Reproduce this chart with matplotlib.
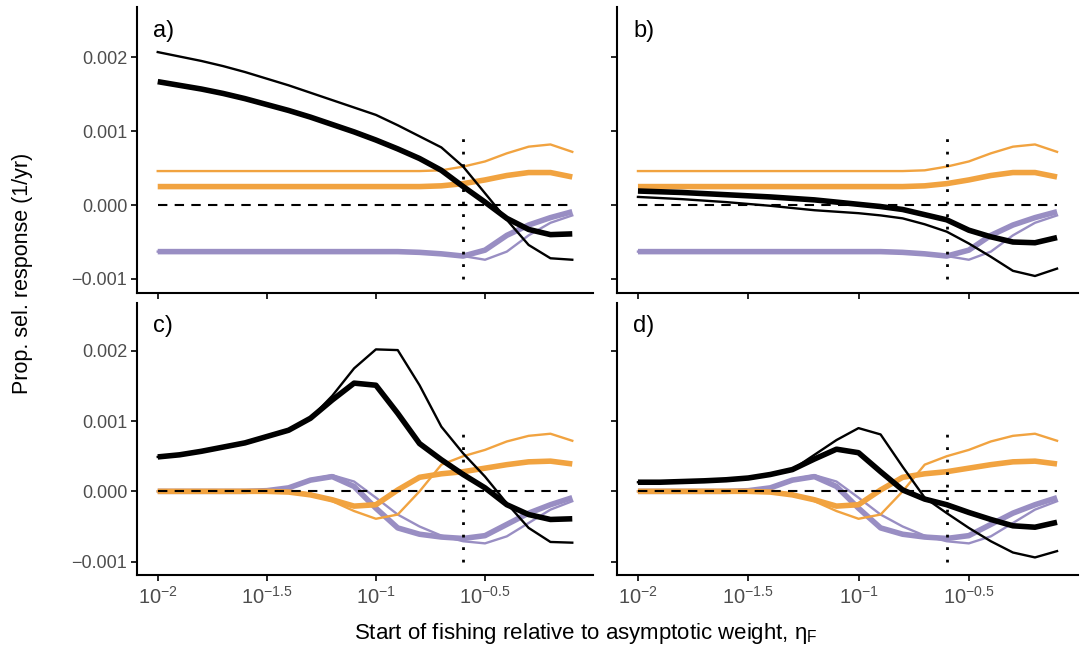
import numpy as np
import matplotlib
matplotlib.use("Agg")
import matplotlib.pyplot as plt

plt.rcParams['font.family'] = ['Liberation Sans', 'DejaVu Sans']
plt.rcParams['mathtext.fontset'] = 'custom'
plt.rcParams['mathtext.rm'] = 'Liberation Sans'
plt.rcParams['mathtext.it'] = 'Liberation Sans:italic'
plt.rcParams['mathtext.bf'] = 'Liberation Sans:bold'

# log10 of start of fishing (eta_F)
log_eta = [-2.0, -1.9, -1.8, -1.7, -1.6, -1.5, -1.4, -1.3, -1.2, -1.1,
           -1.0, -0.9, -0.8, -0.7, -0.6, -0.5, -0.4, -0.3, -0.2, -0.1]
eta_mark = -0.6

# values in units of 1e-3 per yr
# panel a
a_black_thick = [1.67, 1.62, 1.57, 1.51, 1.44, 1.36, 1.28, 1.19, 1.09, 0.99,
                 0.88, 0.76, 0.63, 0.47, 0.25, 0.04, -0.18, -0.33, -0.40, -0.39]
a_black_thin = [2.07, 2.01, 1.95, 1.88, 1.80, 1.71, 1.62, 1.52, 1.42, 1.32,
                1.22, 1.08, 0.93, 0.78, 0.52, 0.16, -0.20, -0.54, -0.72, -0.74]
# panel b
b_black_thick = [0.19, 0.18, 0.17, 0.155, 0.14, 0.125, 0.11, 0.09, 0.07, 0.04,
                 0.01, -0.02, -0.06, -0.13, -0.20, -0.34, -0.43, -0.50, -0.51, -0.44]
b_black_thin = [0.11, 0.095, 0.08, 0.06, 0.04, 0.015, -0.01, -0.04, -0.07, -0.09,
                -0.11, -0.14, -0.18, -0.26, -0.36, -0.52, -0.70, -0.89, -0.96, -0.86]
# top row (a, b) shared components
top_orange_thick = [0.25, 0.25, 0.25, 0.25, 0.25, 0.25, 0.25, 0.25, 0.25, 0.25,
                    0.25, 0.25, 0.25, 0.26, 0.29, 0.34, 0.40, 0.44, 0.44, 0.38]
top_orange_thin = [0.46, 0.46, 0.46, 0.46, 0.46, 0.46, 0.46, 0.46, 0.46, 0.46,
                   0.46, 0.46, 0.46, 0.47, 0.52, 0.59, 0.70, 0.79, 0.82, 0.72]
top_purple_thick = [-0.63, -0.63, -0.63, -0.63, -0.63, -0.63, -0.63, -0.63, -0.63, -0.63,
                    -0.63, -0.63, -0.64, -0.66, -0.69, -0.61, -0.41, -0.27, -0.17, -0.09]
top_purple_thin = [-0.63, -0.63, -0.63, -0.63, -0.63, -0.63, -0.63, -0.63, -0.63, -0.63,
                   -0.63, -0.63, -0.64, -0.66, -0.69, -0.74, -0.63, -0.41, -0.24, -0.14]
# panel c
c_black_thick = [0.49, 0.52, 0.57, 0.63, 0.69, 0.78, 0.87, 1.04, 1.30, 1.54,
                 1.51, 1.11, 0.68, 0.45, 0.24, 0.05, -0.19, -0.33, -0.40, -0.39]
c_black_thin = [0.49, 0.52, 0.57, 0.63, 0.69, 0.78, 0.87, 1.04, 1.36, 1.75,
                2.02, 2.01, 1.51, 0.92, 0.54, 0.21, -0.17, -0.52, -0.72, -0.73]
# panel d
d_black_thick = [0.13, 0.13, 0.14, 0.15, 0.165, 0.19, 0.24, 0.31, 0.46, 0.60,
                 0.55, 0.28, 0.02, -0.11, -0.19, -0.30, -0.40, -0.49, -0.51, -0.44]
d_black_thin = [0.13, 0.13, 0.14, 0.15, 0.165, 0.19, 0.24, 0.31, 0.52, 0.73,
                0.90, 0.81, 0.35, -0.09, -0.31, -0.52, -0.71, -0.87, -0.94, -0.85]
# bottom row (c, d) shared components
bot_orange_thick = [0, 0, 0, 0, 0, 0, -0.01, -0.05, -0.12, -0.21,
                    -0.19, 0.02, 0.20, 0.25, 0.28, 0.33, 0.38, 0.42, 0.43, 0.39]
bot_orange_thin = [0, 0, 0, 0, 0, 0, 0, -0.03, -0.14, -0.28,
                   -0.39, -0.33, 0.0, 0.38, 0.50, 0.59, 0.71, 0.79, 0.82, 0.72]
bot_purple_thick = [0, 0, 0, 0, 0, 0.01, 0.05, 0.16, 0.21, 0.07,
                    -0.24, -0.52, -0.61, -0.65, -0.67, -0.63, -0.47, -0.31, -0.19, -0.09]
bot_purple_thin = [0, 0, 0, 0, 0, 0.01, 0.05, 0.17, 0.23, 0.14,
                   -0.09, -0.33, -0.50, -0.63, -0.71, -0.74, -0.64, -0.45, -0.26, -0.14]

panel_labels = ['a)', 'b)', 'c)', 'd)']
xtick_pows = [-2, -1.5, -1, -0.5]
xtick_labels = [r'$10^{-2}$', r'$10^{-1.5}$', r'$10^{-1}$', r'$10^{-0.5}$']
yticks = [-0.001, 0.0, 0.001, 0.002]
ytick_labels = ['\u22120.001', '0.000', '0.001', '0.002']

ORANGE = '#F1A340'
PURPLE = '#998EC3'
GREY = '#4D4D4D'

x = 10 ** np.array(log_eta)
s = 1e-3

panels = [
    (a_black_thick, a_black_thin, top_orange_thick, top_orange_thin, top_purple_thick, top_purple_thin),
    (b_black_thick, b_black_thin, top_orange_thick, top_orange_thin, top_purple_thick, top_purple_thin),
    (c_black_thick, c_black_thin, bot_orange_thick, bot_orange_thin, bot_purple_thick, bot_purple_thin),
    (d_black_thick, d_black_thin, bot_orange_thick, bot_orange_thin, bot_purple_thick, bot_purple_thin),
]

W, H = 1081, 650
fig = plt.figure(figsize=(W / 100, H / 100), dpi=100)
# pixel boxes: left, right, top, bottom
boxes = [(137, 593, 7, 293), (617, 1078, 7, 293),
         (137, 593, 303, 575), (617, 1078, 303, 575)]

THICK, THIN = 4.0, 1.7
for k, (box, data) in enumerate(zip(boxes, panels)):
    l, r, t, b = box
    ax = fig.add_axes([l / W, 1 - b / H, (r - l) / W, (b - t) / H])
    bk, bn, ok, on, pk, pn = data
    ax.plot(x, np.array(pk) * s, color=PURPLE, lw=THICK, solid_capstyle='butt')
    ax.plot(x, np.array(pn) * s, color=PURPLE, lw=THIN)
    ax.plot(x, np.array(ok) * s, color=ORANGE, lw=THICK, solid_capstyle='butt')
    ax.plot(x, np.array(on) * s, color=ORANGE, lw=THIN)
    ax.plot(x, np.array(bk) * s, color='black', lw=THICK, solid_capstyle='butt')
    ax.plot(x, np.array(bn) * s, color='black', lw=THIN)
    ax.plot([x[0], x[-1]], [0, 0], color='black', lw=1.5, dashes=(4.5, 3.5))
    ax.vlines(10 ** eta_mark, -0.001, 0.00092, color='black', lw=2.0,
              linestyles=(0, (1, 3.5)))
    ax.set_xscale('log')
    ax.set_xlim(10 ** -2.095, 10 ** -0.005)
    ax.set_ylim(-0.00119, 0.00268)
    ax.set_xticks([10 ** p for p in xtick_pows])
    ax.minorticks_off()
    ax.set_yticks(yticks)
    if k >= 2:
        ax.set_xticklabels(xtick_labels)
    else:
        ax.set_xticklabels([])
    if k % 2 == 0:
        ax.set_yticklabels(ytick_labels)
    else:
        ax.set_yticklabels([])
    ax.tick_params(axis='both', colors='black', labelcolor=GREY, labelsize=13,
                   length=4, width=1.2, direction='out', pad=3)
    ax.tick_params(axis='x', labelsize=14.5, pad=4)
    for sp in ['top', 'right']:
        ax.spines[sp].set_visible(False)
    for sp in ['left', 'bottom']:
        ax.spines[sp].set_linewidth(1.5)
    ax.text(0.035, 0.955, panel_labels[k], transform=ax.transAxes,
            fontsize=17, va='top', ha='left')

fig.text(23 / W, 1 - 273 / H, 'Prop. sel. response (1/yr)', rotation=90,
         ha='center', va='center', fontsize=15.5)
fig.text(586 / W, 1 - 633 / H,
         'Start of fishing relative to asymptotic weight, \u03b7$_{\\mathrm{F}}$',
         ha='center', va='center', fontsize=16)

fig.savefig('out.png', dpi=100)
